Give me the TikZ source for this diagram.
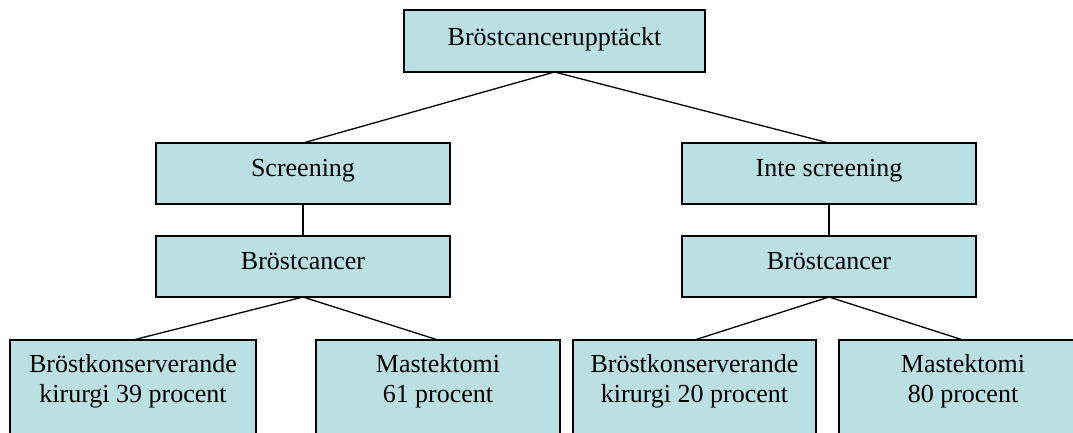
\documentclass[tikz,border=0pt]{standalone}
\usepackage{fontspec}
\setmainfont{Liberation Serif}
\begin{document}
\begin{tikzpicture}[x=1pt,y=-1pt,
  box/.style={draw=black,line width=1.4pt,fill=boxfill,inner sep=0pt,outer sep=0pt},
  label/.style={inner sep=0pt,font=\fontsize{26}{30}\selectfont,align=center,anchor=base},
  link/.style={line width=1.3pt}]
\definecolor{boxfill}{RGB}{187,224,227}
\useasboundingbox (0,0) rectangle (1073,432);
\begin{scope}
\clip (0,0) rectangle (1073,432);
% boxes: centre, width, height
\node[box,minimum width=301pt,minimum height=62pt] (root) at (554.5,41) {};
\node[box,minimum width=294pt,minimum height=61pt] (scr)  at (303,173.5) {};
\node[box,minimum width=294pt,minimum height=61pt] (bc1)  at (303,266.5) {};
\node[box,minimum width=294pt,minimum height=61pt] (ins)  at (829,173.5) {};
\node[box,minimum width=294pt,minimum height=61pt] (bc2)  at (829,266.5) {};
\node[box,minimum width=246pt,minimum height=130pt] (k1) at (133,405) {};
\node[box,minimum width=244pt,minimum height=130pt] (m1) at (438,405) {};
\node[box,minimum width=243pt,minimum height=130pt] (k2) at (694.5,405) {};
\node[box,minimum width=248pt,minimum height=130pt] (m2) at (963,405) {};
% connectors
\draw[link] (root.south) -- (scr.north);
\draw[link] (root.south) -- (ins.north);
\draw[link] (scr.south) -- (bc1.north);
\draw[link] (ins.south) -- (bc2.north);
\draw[link] (bc1.south) -- (k1.north);
\draw[link] (bc1.south) -- (m1.north);
\draw[link] (bc2.south) -- (k2.north);
\draw[link] (bc2.south) -- (m2.north);
% texts (anchored at the baseline of their last line)
\node[label] (troot) at (554.5,45) {Bröstcancerupptäckt};
\node[label] (tscr) at (303,176.5) {Screening};
\node[label] (tbc1) at (303,269) {Bröstcancer};
\node[label] (tins) at (829,176.5) {Inte screening};
\node[label] (tbc2) at (829,269) {Bröstcancer};
\node[label] (tk1) at (133,402.5) {Bröstkonserverande\\kirurgi 39 procent};
\node[label] (tm1) at (438,402.5) {Mastektomi\\61 procent};
\node[label] (tk2) at (694.5,402.5) {Bröstkonserverande\\kirurgi 20 procent};
\node[label] (tm2) at (963,402.5) {Mastektomi\\80 procent};
\end{scope}
\end{tikzpicture}
\end{document}
